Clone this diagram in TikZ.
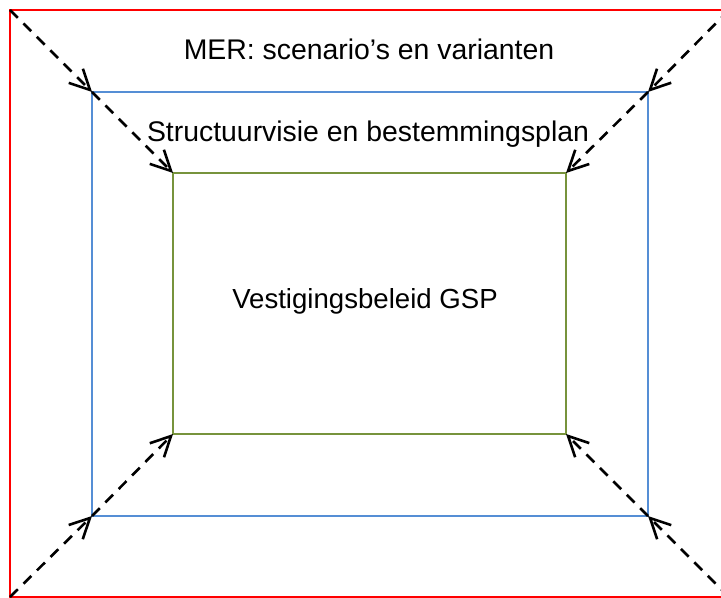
\documentclass[tikz,border=0pt]{standalone}
\usepackage{fontspec}
\setmainfont{Liberation Sans}
\usetikzlibrary{arrows.meta}
\definecolor{rood}{RGB}{255,0,0}
\definecolor{blauw}{RGB}{85,142,213}
\definecolor{groen}{RGB}{119,147,60}
\begin{document}
\begin{tikzpicture}[x=0.5pt, y=-0.5pt]
	\tikzset{kader/.style={line width=1.3pt}, pijl/.style={line width=1.3pt, dash pattern=on 5.5pt off 4pt, -{Straight Barb[length=10pt, width=10pt, line width=1.3pt]}}, tekst/.style={anchor=base, inner sep=0pt, font=\fontsize{14.2}{17}\selectfont}};

	\useasboundingbox (0,0) rectangle (721,598);

			\coordinate (r1) at ( 10,  10);
	\coordinate (r2) at (729,  10);
	\coordinate (r3) at (729, 597);
	\coordinate (r4) at ( 10, 597);

	\coordinate (b1) at ( 92,  92);
	\coordinate (b2) at (648,  92);
	\coordinate (b3) at (648, 516);
	\coordinate (b4) at ( 92, 516);

	\coordinate (g1) at (173, 173);
	\coordinate (g2) at (566, 173);
	\coordinate (g3) at (566, 434);
	\coordinate (g4) at (173, 434);

	\draw[kader, rood] (r1) rectangle (r3);
	\draw[kader, blauw] (b1) rectangle (b3);
	\draw[kader, groen] (g1) rectangle (g3);

	\node[tekst] (mer) at (369,  60) {MER: scenario’s en varianten};
	\node[tekst] (sv) at (368, 142) {Structuurvisie en bestemmingsplan};
	\node[tekst, font=\fontsize{13.8}{17}\selectfont] (vb) at (365, 308) {Vestigingsbeleid GSP};

	\draw[pijl] (r1) -- (b1);
	\draw[pijl] (r2) -- (b2);
	\draw[pijl] (r3) -- (b3);
	\draw[pijl] (r4) -- (b4);

	\draw[pijl] (b1) -- (g1);
	\draw[pijl] (b2) -- (g2);
	\draw[pijl] (b3) -- (g3);
	\draw[pijl] (b4) -- (g4);

\end{tikzpicture}
\end{document}
